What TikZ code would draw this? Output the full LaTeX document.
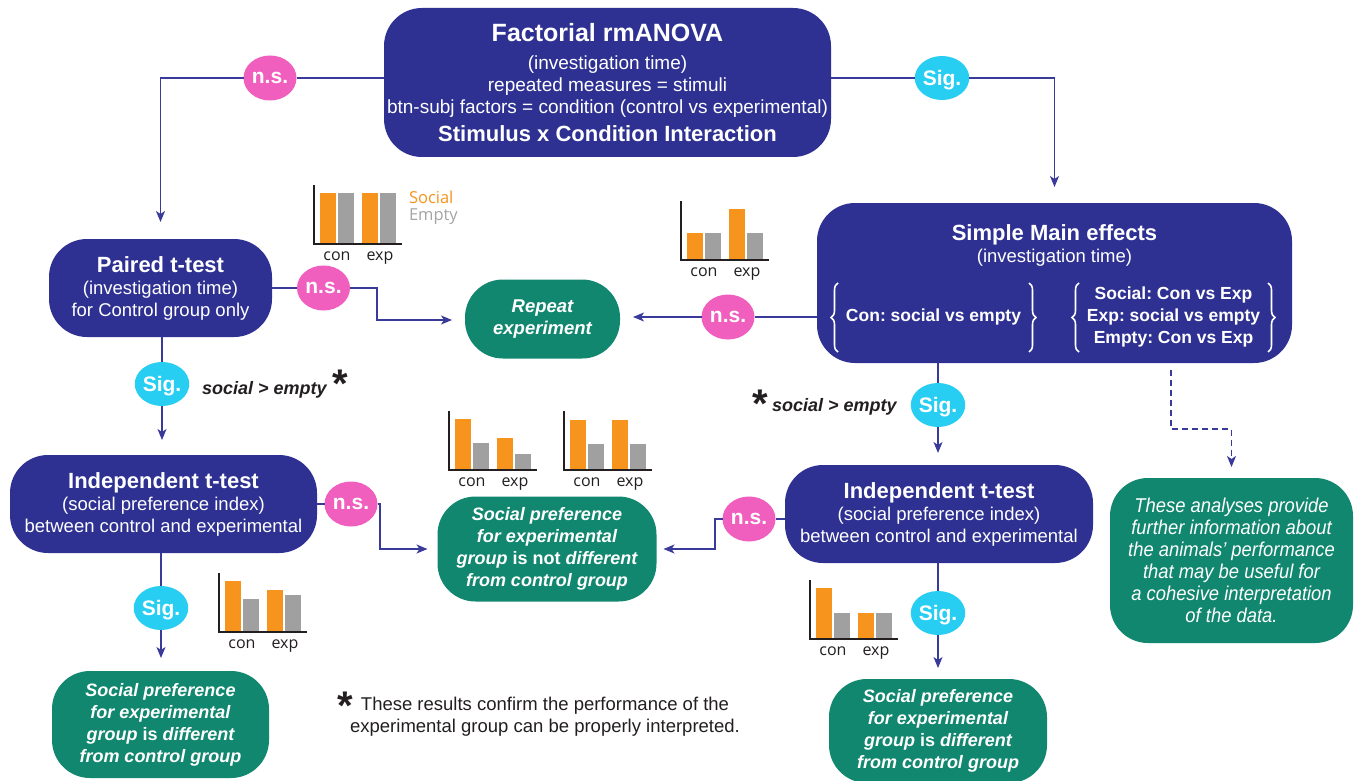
\documentclass[tikz,border=0pt]{standalone}
\usepackage{fontspec}
\setmainfont{Liberation Sans}
\newfontfamily\chartfont{Open Sans}
\newfontfamily\narrowfont{Liberation Sans}[FakeStretch=0.92]
\usetikzlibrary{shapes.geometric,arrows.meta,decorations.pathreplacing}
\frenchspacing
\definecolor{boxblue}{RGB}{46,49,146}
\definecolor{boxgreen}{RGB}{18,135,111}
\definecolor{nspink}{RGB}{240,94,190}
\definecolor{sigcyan}{RGB}{39,206,242}
\definecolor{linecol}{RGB}{58,58,155}
\definecolor{barorange}{RGB}{247,148,29}
\definecolor{bargray}{RGB}{160,160,160}
\definecolor{legendgray}{RGB}{165,165,165}
\definecolor{textblack}{RGB}{35,31,32}
\newcommand{\boxhead}[1]{{\fontsize{22}{22}\selectfont\bfseries #1}}
\newcommand{\barchart}[7]{%
  \fill[barorange] (#1+6,#2) rectangle (#1+22,#2-#3);
  \fill[bargray] (#1+24,#2) rectangle (#1+40,#2-#4);
  \fill[barorange] (#1+48,#2) rectangle (#1+64,#2-#5);
  \fill[bargray] (#1+66,#2) rectangle (#1+82,#2-#6);
  \draw[axisline] (#1,#2-59) -- (#1,#2) -- (#1+88,#2);
  \node[chartlbl] (#7con) at (#1+23,#2+12) {con};
  \node[chartlbl] (#7exp) at (#1+66,#2+12) {exp};}
\tikzset{
  every node/.style={inner sep=0pt, outer sep=0pt},
  bluebox/.style={fill=boxblue, rounded corners=38pt, text=white, align=center,
    font=\fontsize{18.5}{22}\selectfont},
  greenbox/.style={fill=boxgreen, rounded corners=38pt, text=white, align=center,
    font=\fontsize{18}{22}\selectfont\bfseries\itshape},
  nsnode/.style={ellipse, fill=nspink, text=white, font=\fontsize{21}{21}\selectfont\bfseries,
    minimum width=53pt, minimum height=45pt, text height=11pt, text depth=0pt},
  signode/.style={ellipse, fill=sigcyan, text=white, font=\fontsize{21}{21}\selectfont\bfseries,
    minimum width=52pt, minimum height=44pt, text height=15pt, text depth=0pt},
  conn/.style={draw=linecol, line width=1.4pt},
  arr/.style={conn, -{Stealth[length=11pt,width=9pt,inset=3pt]}},
  dashconn/.style={arr, dash pattern=on 6pt off 4pt},
  axisline/.style={draw=textblack, line width=2pt},
  chartlbl/.style={font=\chartfont\fontsize{16}{16}\selectfont, text=textblack, text height=8.5pt, text depth=0pt},
  legendlbl/.style={anchor=west, font=\chartfont\fontsize{16.5}{16.5}\selectfont, text height=12pt, text depth=0pt},
  starnode/.style={font=\fontsize{40}{40}\selectfont\bfseries, text=textblack},
  cmpnode/.style={font=\fontsize{18}{18}\selectfont\bfseries\itshape, text=textblack, anchor=west, text height=13pt, text depth=0pt},
  bracetext/.style={text=white, align=center, font=\fontsize{17.5}{22}\selectfont\bfseries},
  curly/.style={draw=white, line width=1.6pt, decorate, decoration={brace, amplitude=7pt}}
}
\begin{document}
\begin{tikzpicture}[x=1pt,y=-1pt]
\useasboundingbox (0,0) rectangle (1360,781);
\fill[white] (0,0) rectangle (1360,781);

% boxes
\node[bluebox, minimum width=447pt, minimum height=149pt, font=\fontsize{19}{22}\selectfont] (top) at (607.5,82.5)
 {{\fontsize{25}{25}\selectfont\bfseries Factorial rmANOVA}\\[6pt]
  (investigation time)\\
  repeated measures = stimuli\\
  btn-subj factors = condition (control vs experimental)\\[6pt]
  {\fontsize{22}{22}\selectfont\bfseries Stimulus x Condition Interaction}};
\node[bluebox, minimum width=223pt, minimum height=98pt] (paired) at (160.5,288)
 {\boxhead{Paired t-test}\\(investigation time)\\for Control group only};
\node[bluebox, minimum width=475pt, minimum height=160pt] (simple) at (1054.5,283) {};
\node[text=white, align=center, font=\fontsize{18.5}{22}\selectfont] (simpletitle) at (1054.5,245)
 {\boxhead{Simple Main effects}\\(investigation time)};
\node[bracetext] (braceL) at (933.5,317) {Con: social vs empty};
\node[bracetext] (braceR) at (1173.5,317) {Social: Con vs Exp\\Exp: social vs empty\\Empty: Con vs Exp};
\draw[curly] (838,352) -- (838,283);
\draw[curly] (1029,283) -- (1029,352);
\draw[curly] (1079,352) -- (1079,283);
\draw[curly] (1268,283) -- (1268,352);
\node[bluebox, minimum width=307pt, minimum height=98pt] (leftindep) at (163.5,504)
 {\boxhead{Independent t-test}\\(social preference index)\\between control and experimental};
\node[bluebox, minimum width=308pt, minimum height=98pt] (rightindep) at (939,514)
 {\boxhead{Independent t-test}\\(social preference index)\\between control and experimental};

\node[greenbox, minimum width=155pt, minimum height=79pt, font=\fontsize{18.5}{22}\selectfont\bfseries\itshape] (repeat) at (542.5,319)
 {Repeat\\experiment};
\node[greenbox, minimum width=219pt, minimum height=105pt] (notdiff) at (547,549)
 {Social preference\\for experimental\\group {\upshape is not} different\\from control group};
\node[greenbox, minimum width=217pt, minimum height=107pt] (leftres) at (160.5,724.5)
 {Social preference\\for experimental\\group {\upshape is} different\\from control group};
\node[greenbox, minimum width=218pt, minimum height=104pt] (rightres) at (938,731)
 {Social preference\\for experimental\\group {\upshape is} different\\from control group};
\node[greenbox, minimum width=243pt, minimum height=165pt, font=\narrowfont\fontsize{20}{22}\selectfont\itshape] (note) at (1231.5,560.5)
 {These analyses provide\\further information about\\the animals’ performance\\that may be useful for\\a cohesive interpretation\\of the data.};

% decision ellipses
\node[nsnode] (ns1) at (270,78) {n.s.};
\node[signode] (sig1) at (942,78) {Sig.};
\node[nsnode] (ns2) at (323.5,288) {n.s.};
\node[nsnode] (ns3) at (728,317) {n.s.};
\node[signode] (sig2) at (162,384) {Sig.};
\node[signode] (sig3) at (938,405) {Sig.};
\node[nsnode] (ns4) at (351,504) {n.s.};
\node[nsnode] (ns5) at (749,519) {n.s.};
\node[signode] (sig4) at (161,608) {Sig.};
\node[signode] (sig5) at (938,613) {Sig.};

% connectors
\draw[conn] ([yshift=4.5pt]top.west) -- (ns1);
\draw[arr, shorten >=17pt] (ns1) -| (paired.north);
\draw[conn] ([yshift=4.5pt]top.east) -- (sig1);
\draw[arr, shorten >=16pt] (sig1) -| (simple.north);
\draw[conn] (paired.east) -- (ns2);
\draw[arr] (ns2) -- ++(53.5pt,0) |- ([xshift=-13pt,yshift=-1pt]repeat.west);
\draw[conn] ([yshift=-34pt]simple.west) -- (ns3);
\draw[arr, shorten >=13pt] (ns3) -- (ns3 -| repeat.east);
\draw[conn] (sig2 |- paired.south) -- (sig2);
\draw[arr, shorten >=15pt] (sig2) -- (sig2 |- leftindep.north);
\draw[conn] (leftindep.east |- ns4) -- (ns4);
\draw[arr] (ns4) -- ++(29pt,0) |- ([xshift=-10pt]notdiff.west);
\draw[conn] (sig4 |- leftindep.south) -- (sig4);
\draw[arr, shorten >=13pt] (sig4) -- (sig4 |- leftres.north);
\draw[conn] (sig3 |- simple.south) -- (sig3);
\draw[arr, shorten >=12pt] (sig3) -- (sig3 |- rightindep.north);
\draw[conn] (rightindep.west |- ns5) -- (ns5);
\draw[arr] (ns5) -- ++(-34pt,0) |- ([xshift=7pt]notdiff.east);
\draw[conn] (sig5 |- rightindep.south) -- (sig5);
\draw[arr, shorten >=11pt] (sig5) -- (sig5 |- rightres.north);
\coordinate (dstart) at ([xshift=116.5pt,yshift=-7pt]simple.south);
\draw[dashconn] (dstart) -- ++(0,-59pt) -| ([yshift=11pt]note.north);

% bar charts
\barchart{314}{244}{51}{51}{51}{51}{ca}
\barchart{681}{260}{27}{27}{51}{27}{cb}
\barchart{449}{470}{51}{27}{32}{16}{cc}
\barchart{564}{470}{50}{26}{50}{26}{cd}
\barchart{219}{632}{51}{33}{42}{37}{ce}
\barchart{810}{639}{51}{26}{26}{26}{cf}
\node[legendlbl, text=barorange] (legsocial) at (409,197) {Social};
\node[legendlbl, text=legendgray] (legempty) at (409,214) {Empty};

% annotations
\node[cmpnode] (cmpL) at (202,388) {social > empty};
\node[starnode] (starL) at (340,384) {*};
\node[starnode] (starR) at (760,404) {*};
\node[cmpnode] (cmpR) at (772,405) {social > empty};
\node[starnode] (starF) at (345,706) {*};
\node[font=\fontsize{18.5}{22}\selectfont, text=textblack, align=center] (foot) at (545,717)
 {These results confirm the performance of the\\experimental group can be properly interpreted.};
\end{tikzpicture}
\end{document}
